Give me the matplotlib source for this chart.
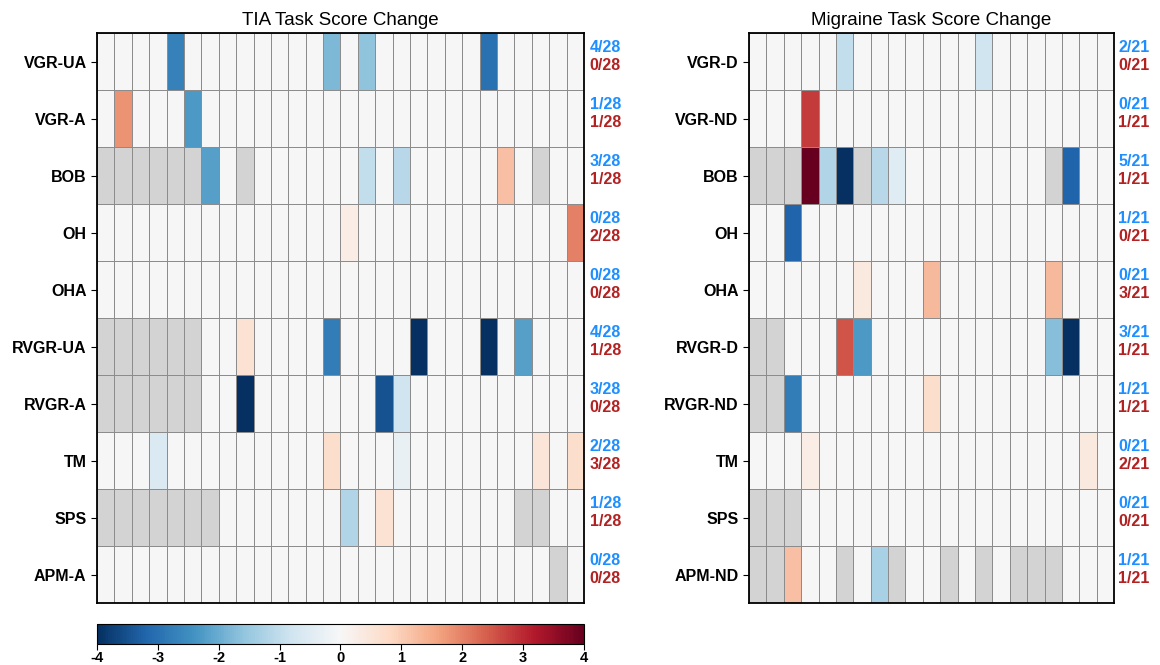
import numpy as np
import matplotlib
matplotlib.use("Agg")
import matplotlib.pyplot as plt
from matplotlib.colors import Normalize

plt.rcParams['font.family'] = ['Liberation Sans', 'DejaVu Sans']
plt.rcParams['axes.unicode_minus'] = False

N = np.nan

### TIA panel: 10 tasks x 28 subjects (nan = not tested)
tia_tasks = ["VGR-UA", "VGR-A", "BOB", "OH", "OHA", "RVGR-UA", "RVGR-A", "TM", "SPS", "APM-A"]
tia_vgr_ua = [0, 0, 0, 0, -2.7, 0, 0, 0, 0, 0, 0, 0, 0, -1.8, 0, -1.6, 0, 0, 0, 0, 0, 0, -3.0, 0, 0, 0, 0, 0]
tia_vgr_a = [0, 1.8, 0, 0, 0, -2.3, 0, 0, 0, 0, 0, 0, 0, 0, 0, 0, 0, 0, 0, 0, 0, 0, 0, 0, 0, 0, 0, 0]
tia_bob = [N, N, N, N, N, N, -2.2, 0, N, 0, 0, 0, 0, 0, 0, -1.0, 0, -1.1, 0, 0, 0, 0, 0, 1.2, 0, N, 0, 0]
tia_oh = [0, 0, 0, 0, 0, 0, 0, 0, 0, 0, 0, 0, 0, 0, 0.3, 0, 0, 0, 0, 0, 0, 0, 0, 0, 0, 0, 0, 2.0]
tia_oha = [0, 0, 0, 0, 0, 0, 0, 0, 0, 0, 0, 0, 0, 0, 0, 0, 0, 0, 0, 0, 0, 0, 0, 0, 0, 0, 0, 0]
tia_rvgr_ua = [N, N, N, N, N, N, 0, 0, 0.6, 0, 0, 0, 0, -2.8, 0, 0, 0, 0, -4.0, 0, 0, 0, -4.0, 0, -2.2, 0, 0, 0]
tia_rvgr_a = [N, N, N, N, N, N, 0, 0, -4.0, 0, 0, 0, 0, 0, 0, 0, -3.5, -0.8, 0, 0, 0, 0, 0, 0, 0, 0, 0, 0]
tia_tm = [0, 0, 0, -0.6, 0, 0, 0, 0, 0, 0, 0, 0, 0, 0.7, 0, 0, 0, -0.3, 0, 0, 0, 0, 0, 0, 0, 0.5, 0, 0.7]
tia_sps = [N, N, N, N, N, N, N, 0, 0, 0, 0, 0, 0, 0, -1.2, 0, 0.6, 0, 0, 0, 0, 0, 0, 0, N, N, 0, 0]
tia_apm_a = [0, 0, 0, 0, 0, 0, 0, 0, 0, 0, 0, 0, 0, 0, 0, 0, 0, 0, 0, 0, 0, 0, 0, 0, 0, 0, N, 0]

### Migraine panel: 10 tasks x 21 subjects
mig_tasks = ["VGR-D", "VGR-ND", "BOB", "OH", "OHA", "RVGR-D", "RVGR-ND", "TM", "SPS", "APM-ND"]
mig_vgr_d = [0, 0, 0, 0, 0, -1.0, 0, 0, 0, 0, 0, 0, 0, -0.8, 0, 0, 0, 0, 0, 0, 0]
mig_vgr_nd = [0, 0, 0, 2.8, 0, 0, 0, 0, 0, 0, 0, 0, 0, 0, 0, 0, 0, 0, 0, 0, 0]
mig_bob = [N, N, N, 4.0, -1.2, -4.0, N, -1.1, -0.5, 0, 0, 0, 0, 0, 0, 0, 0, N, -3.2, 0, 0]
mig_oh = [0, 0, -3.2, 0, 0, 0, 0, 0, 0, 0, 0, 0, 0, 0, 0, 0, 0, 0, 0, 0, 0]
mig_oha = [0, 0, 0, 0, 0, 0, 0.4, 0, 0, 0, 1.3, 0, 0, 0, 0, 0, 0, 1.3, 0, 0, 0]
mig_rvgr_d = [N, N, 0, 0, 0, 2.5, -2.3, 0, 0, 0, 0, 0, 0, 0, 0, 0, 0, -1.7, -4.0, 0, 0]
mig_rvgr_nd = [N, N, -2.8, 0, 0, 0, 0, 0, 0, 0, 0.7, 0, 0, 0, 0, 0, 0, 0, 0, 0, 0]
mig_tm = [0, 0, 0, 0.3, 0, 0, 0, 0, 0, 0, 0, 0, 0, 0, 0, 0, 0, 0, 0, 0.4, 0]
mig_sps = [N, N, N, 0, 0, 0, 0, 0, 0, 0, 0, 0, 0, 0, 0, 0, 0, 0, 0, 0, 0]
mig_apm_nd = [N, N, 1.2, 0, 0, N, 0, -1.3, N, 0, 0, N, 0, N, 0, N, N, N, 0, 0, 0]

tia = np.array([tia_vgr_ua, tia_vgr_a, tia_bob, tia_oh, tia_oha,
                tia_rvgr_ua, tia_rvgr_a, tia_tm, tia_sps, tia_apm_a])
mig = np.array([mig_vgr_d, mig_vgr_nd, mig_bob, mig_oh, mig_oha,
                mig_rvgr_d, mig_rvgr_nd, mig_tm, mig_sps, mig_apm_nd])

cmap = plt.get_cmap("RdBu_r").copy()
cmap.set_bad("#d3d3d3")
norm = Normalize(vmin=-4, vmax=4)

fig = plt.figure(figsize=(11.6, 6.65), dpi=100)
ax1 = fig.add_axes([0.0836, 0.0932, 0.4198, 0.857])
ax2 = fig.add_axes([0.6457, 0.0932, 0.3147, 0.857])
cax = fig.add_axes([0.0836, 0.0316, 0.4198, 0.030])


def draw_panel(ax, data, tasks, title):
    nrow, ncol = data.shape
    mesh = ax.pcolormesh(np.ma.masked_invalid(data), cmap=cmap, norm=norm,
                         edgecolors="#8c8c8c", linewidth=0.6)
    ax.set_xlim(0, ncol)
    ax.set_ylim(nrow, 0)
    ax.set_xticks([])
    ax.set_yticks(np.arange(nrow) + 0.5)
    ax.set_yticklabels(tasks, fontsize=11.5, fontweight="bold")
    ax.tick_params(axis="y", length=4, width=0.8)
    ax.set_title(title, fontsize=13.5, pad=6)
    for s in ax.spines.values():
        s.set_linewidth(1.3)
    tr = ax.get_yaxis_transform()
    for i in range(nrow):
        row = data[i]
        n_neg = int(np.sum(row[~np.isnan(row)] < 0))
        n_pos = int(np.sum(row[~np.isnan(row)] > 0))
        ax.text(1.012, i + 0.25, f"{n_neg}/{ncol}", transform=tr, color="#1e8fff",
                fontsize=11.5, fontweight="bold", va="center", ha="left")
        ax.text(1.012, i + 0.57, f"{n_pos}/{ncol}", transform=tr, color="#b22222",
                fontsize=11.5, fontweight="bold", va="center", ha="left")
    return mesh


mesh = draw_panel(ax1, tia, tia_tasks, "TIA Task Score Change")
draw_panel(ax2, mig, mig_tasks, "Migraine Task Score Change")

cb = fig.colorbar(mesh, cax=cax, orientation="horizontal", ticks=range(-4, 5))
cb.ax.tick_params(labelsize=10.5, length=4, pad=1)
for t in cb.ax.get_xticklabels():
    t.set_fontweight("bold")
cb.outline.set_linewidth(0.8)

fig.savefig("out.png", dpi=100)
